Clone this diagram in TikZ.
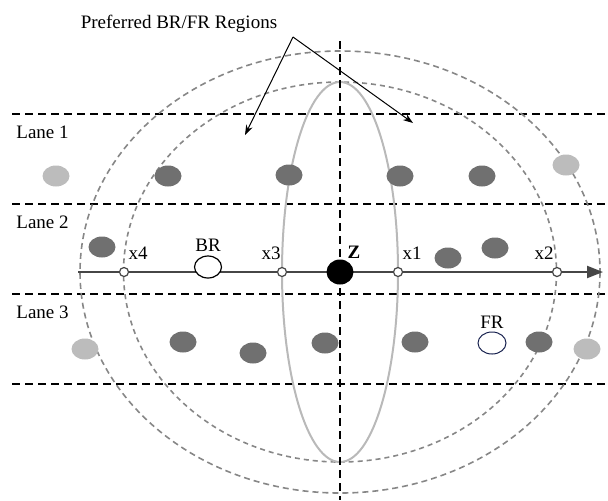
\documentclass[tikz,border=0pt]{standalone}
\usepackage{fontspec}
\setmainfont{Liberation Serif}
\usetikzlibrary{positioning, shapes.geometric, arrows.meta}
\definecolor{cardark}{RGB}{112,112,112}
\definecolor{carlight}{RGB}{188,188,188}
\definecolor{ringgray}{RGB}{135,135,135}
\definecolor{axisgray}{RGB}{70,70,70}
\definecolor{frblue}{RGB}{25,35,80}
\tikzset{
    car/.style={ellipse, fill=cardark, minimum width=13.5pt, minimum height=10.5pt, inner sep=0pt},
    faded/.style={car, fill=carlight},
    xpoint/.style={circle, draw=axisgray, fill=white, line width=0.6pt, minimum size=4.5pt, inner sep=0pt},
    lanesep/.style={dash pattern=on 4pt off 2.5pt, line width=0.6pt},
    ring/.style={draw=ringgray, dash pattern=on 3pt off 2pt, line width=0.8pt},
    lbl/.style={font=\fontsize{9.5}{11}\selectfont, inner sep=1pt}
}

\begin{document}
\begin{tikzpicture}[x=0.5pt, y=-0.5pt]
      \useasboundingbox (0,0) rectangle (608,500);
      \coordinate (c) at (340,272);

      % lanes
      \foreach \yy in {114,204,294,384}
        \draw[lanesep] (12,\yy) -- (608,\yy);
      \node[lbl, anchor=west] (lane1) at (14,132) {Lane 1};
      \node[lbl, anchor=west] (lane2) at (14,222) {Lane 2};
      \node[lbl, anchor=west] (lane3) at (14,312) {Lane 3};

      % regions
      \draw[ring] (c) ellipse [x radius=260, y radius=221];
      \draw[ring, dash pattern=on 2.5pt off 2pt] (c) ellipse [x radius=216.5, y radius=190];
      \draw[draw=gray!55, line width=1pt] (c) ellipse [x radius=58, y radius=190];
      \draw[lanesep] (340,41) -- (340,500);

      % axis
      \coordinate (axstart) at (78,272);
      \coordinate (axend) at (603,272);
      \draw[axisgray, line width=1.1pt, -{Triangle[length=8pt, width=6pt]}] (axstart) -- (axend);

      % cars
      \node[faded] (a1) at (56,176) {};
      \node[car] (a2) at (168,176) {};
      \node[car] (a3) at (289,175) {};
      \node[car] (a4) at (400,176) {};
      \node[car] (a5) at (482,176) {};
      \node[faded] (a6) at (566,165) {};
      \node[car] (b1) at (102,247) {};
      \node[car] (b2) at (448,258) {};
      \node[car] (b3) at (495,248) {};
      \node[faded] (c1) at (85,349) {};
      \node[car] (c2) at (183,342) {};
      \node[car] (c3) at (253,353) {};
      \node[car] (c4) at (325,343) {};
      \node[car] (c5) at (415,342) {};
      \node[car] (c6) at (539,342) {};
      \node[faded] (c7) at (587,349) {};

      % vehicles on the axis
      \node[ellipse, fill=black, minimum width=13.5pt, minimum height=12.5pt, inner sep=0pt] (Z) at (c) {};
      \node[ellipse, draw=black, fill=white, line width=0.6pt, minimum width=13.5pt, minimum height=11pt, inner sep=0pt] (BR) at (208,267) {};
      \node[ellipse, draw=frblue, fill=white, line width=0.5pt, minimum width=14pt, minimum height=11pt, inner sep=0pt] (FR) at (492,343) {};
      \node[lbl, font=\fontsize{9.5}{11}\selectfont\bfseries] (zl) at (354,252) {Z};
      \node[lbl] (brl) [above=0.5pt of BR] {BR};
      \node[lbl] (frl) [above=0.5pt of FR] {FR};

      \node[xpoint] (x4) at (124,272) {};
      \node[xpoint] (x3) at (282,272) {};
      \node[xpoint] (x1) at (398,272) {};
      \node[xpoint] (x2) at (557,272) {};
      \node[lbl] (x4l) at (138,253) {x4};
      \node[lbl] (x3l) at (271,253) {x3};
      \node[lbl] (x1l) at (412,253) {x1};
      \node[lbl] (x2l) at (544,253) {x2};

      % callout
      \node[lbl] (pref) at (179,24) {Preferred BR/FR Regions};
      \coordinate (apex) at (293,37);
      \coordinate (regl) at (245,135);
      \coordinate (regr) at (413,123);
      \draw[line width=0.5pt, -{Stealth[length=5pt, width=3.5pt]}] (apex) -- (regl);
      \draw[line width=0.5pt, -{Stealth[length=5pt, width=3.5pt]}] (apex) -- (regr);
\end{tikzpicture}
\end{document}
